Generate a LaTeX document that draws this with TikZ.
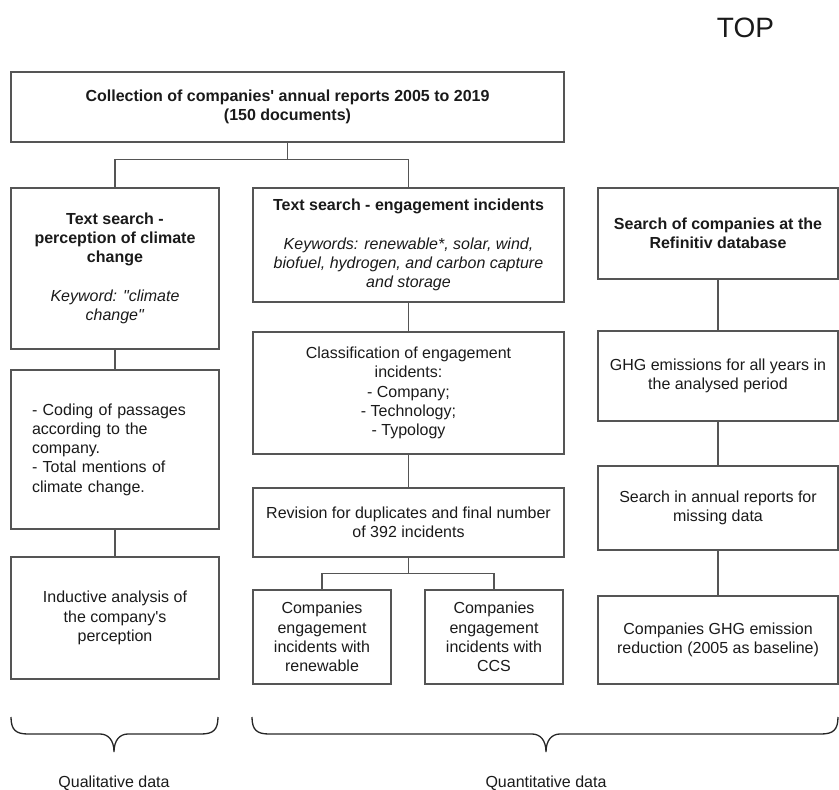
\documentclass[tikz,border=0pt]{standalone}
\usepackage{fontspec}
\setmainfont{Liberation Sans}
\definecolor{linegray}{HTML}{555555}
\definecolor{inkgray}{HTML}{1A1A1A}

\begin{document}
\begin{tikzpicture}
    [
        x=1pt,
        y=-1pt,
        box/.style={
                rectangle,
                draw=linegray,
                line width=1.4pt,
                inner sep=0pt,
                align=center,
                text=inkgray,
                font=\fontsize{16}{19.3}\selectfont,
            },
        link/.style={
                draw=linegray,
                line width=1.4pt,
            },
        caption/.style={
                anchor=base,
                inner sep=0pt,
                text=inkgray,
                font=\fontsize{16}{19.3}\selectfont,
            },
    ]
    \useasboundingbox (0,0) rectangle (839,790);

    \node [caption, font=\fontsize{28}{32}\selectfont] (top) at (745.5,37) {TOP};

    % root
    \node [box, minimum width=553pt, minimum height=70pt] (c0) at (287.5,107)
        {\textbf{Collection of companies\textquotesingle{} annual reports 2005 to 2019}\\\textbf{(150 documents)}};

    % left column: qualitative
    \node [box, minimum width=208pt, minimum height=161pt] (l1) at (115,268.5)
        {\textbf{Text search -}\\\textbf{perception of climate}\\\textbf{change}\\[19.3pt]\textit{Keyword: \textquotedbl climate}\\\textit{change\textquotedbl}};
    \node [box, minimum width=208pt, minimum height=159pt, align=left, text width=166pt] (l2) at (115,449.5)
        {- Coding of passages\\according to the\\company.\\- Total mentions of\\climate change.};
    \node [box, minimum width=208pt, minimum height=122pt] (l3) at (115,618)
        {Inductive analysis of\\the company\textquotesingle{}s\\perception};

    % middle column: engagement incidents
    \node [box, minimum width=311pt, minimum height=114pt] (m1) at (408.5,245)
        {\textbf{Text search - engagement incidents}\\[19.3pt]\textit{Keywords: renewable*, solar, wind,}\\\textit{biofuel, hydrogen, and carbon capture}\\\textit{and storage}};
    \node [box, minimum width=311pt, minimum height=122pt] (m2) at (408.5,393)
        {Classification of engagement\\incidents:\\- Company;\\- Technology;\\- Typology};
    \node [box, minimum width=311pt, minimum height=69pt] (m3) at (408.5,522.5)
        {Revision for duplicates and final number\\of 392 incidents};
    \node [box, minimum width=138pt, minimum height=94pt] (m4) at (322,637)
        {Companies\\engagement\\incidents with\\renewable};
    \node [box, minimum width=138pt, minimum height=94pt] (m5) at (494,637)
        {Companies\\engagement\\incidents with\\CCS};

    % right column: emissions
    \node [box, minimum width=240pt, minimum height=91pt] (r1) at (718,233.5)
        {\textbf{Search of companies at the}\\\textbf{Refinitiv database}};
    \node [box, minimum width=240pt, minimum height=90pt] (r2) at (718,376)
        {GHG emissions for all years in\\the analysed period};
    \node [box, minimum width=240pt, minimum height=84pt] (r3) at (718,508)
        {Search in annual reports for\\missing data};
    \node [box, minimum width=240pt, minimum height=88pt] (r4) at (718,640)
        {Companies GHG emission\\reduction (2005 as baseline)};

    % connectors
    \coordinate (j0) at ([yshift=-17pt]c0.south);
    \coordinate (j1) at ([yshift=-16pt]m3.south);
    \draw [link] (c0.south) -- (j0);
    \draw [link] (l1.north) |- (j0) -| (m1.north);
    \draw [link] (l1) -- (l2) -- (l3);
    \draw [link] (m1) -- (m2) -- (m3);
    \draw [link] (m3.south) -- (j1);
    \draw [link] (m4.north) |- (j1) -| (m5.north);
    \draw [link] (r1) -- (r2) -- (r3) -- (r4);

    % braces
    \foreach \a/\m/\b in {11/114/218, 252/546/838}
        {
            \draw [line width=1.3pt, black!85] (\a,717)
                .. controls (\a,730) and (\a+5,734) .. (\a+17,734)
                -- (\m-14,734)
                .. controls (\m-6,734) and (\m,740) .. (\m,752)
                .. controls (\m,740) and (\m+6,734) .. (\m+14,734)
                -- (\b-17,734)
                .. controls (\b-5,734) and (\b,730) .. (\b,717);
        }
    \node [caption] (qual) at (114,787) {Qualitative data};
    \node [caption] (quant) at (546,787) {Quantitative data};
\end{tikzpicture}
\end{document}
